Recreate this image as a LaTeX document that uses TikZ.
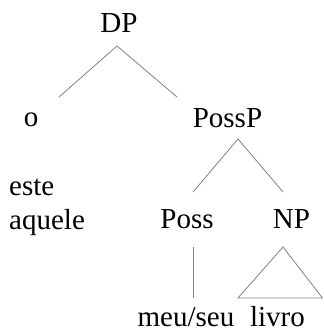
\documentclass[tikz,border=0pt]{standalone}
\usepackage{fontspec}
\setmainfont{Liberation Serif}
\usetikzlibrary{calc}
\begin{document}
\begin{tikzpicture}[x=1pt, y=-1pt,
 lbl/.style={anchor=base, inner sep=0, font=\fontsize{29}{34}\selectfont},
 branch/.style={gray, line width=.8pt}]
\useasboundingbox (0,0) rectangle (323,331);
% labels
\node[lbl] (dp) at (119,32.7) {DP};
\node[lbl] (det) at (31,126) {o};
\node[lbl] (possp) at (227.5,127.3) {PossP};
\node[lbl, anchor=base west] (este) at (9,195) {este};
\node[lbl, anchor=base west] (aquele) at (9,229) {aquele};
\node[lbl] (poss) at (187,228.5) {Poss};
\node[lbl] (np) at (291.5,228.5) {NP};
\node[lbl] (meuseu) at (186,326) {meu/seu};
\node[lbl] (livro) at (277.5,326) {livro};
% branch ends
\coordinate (dp-top) at (117,46);
\coordinate (dp-l) at (59,97);
\coordinate (dp-r) at (177,97);
\coordinate (possp-top) at (238,139);
\coordinate (possp-l) at (193,192);
\coordinate (possp-r) at (283,192);
\coordinate (poss-top) at (193,247);
\coordinate (poss-bot) at (193,298);
\coordinate (np-top) at (283,247);
\coordinate (np-l) at (238,298);
\coordinate (np-r) at (322.5,298);
\draw[branch] (dp-l) -- (dp-top) -- (dp-r);
\draw[branch] (possp-l) -- (possp-top) -- (possp-r);
\draw[branch] (poss-top) -- (poss-bot);
\draw[branch] (np-top) -- (np-l) -- (np-r) -- cycle;
\end{tikzpicture}
\end{document}
